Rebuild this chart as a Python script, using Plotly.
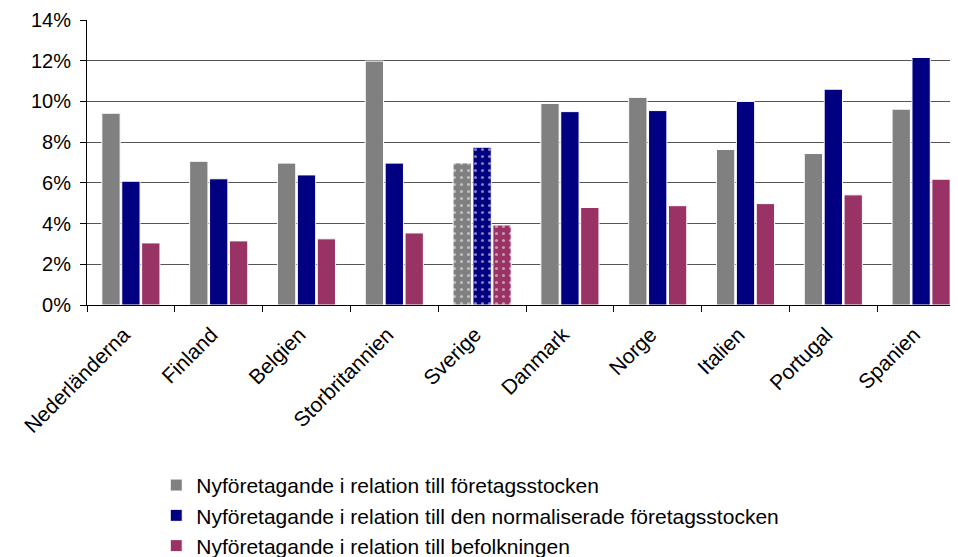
import plotly.graph_objects as go

categories = ["Nederländerna", "Finland", "Belgien", "Storbritannien", "Sverige",
              "Danmark", "Norge", "Italien", "Portugal", "Spanien"]
stock = [9.42, 7.06, 6.97, 11.98, 6.98, 9.9, 10.2, 7.64, 7.44, 9.62]
normalized = [6.08, 6.20, 6.39, 6.97, 7.75, 9.5, 9.55, 10.0, 10.6, 12.16]
population = [3.05, 3.15, 3.25, 3.54, 3.93, 4.79, 4.88, 4.98, 5.41, 6.18]
series_names = [
    "Nyföretagande i relation till företagsstocken",
    "Nyföretagande i relation till den normaliserade företagsstocken",
    "Nyföretagande i relation till befolkningen",
]
colors = ["#808080", "#000080", "#993366"]
highlight = "Sverige"

fig = go.Figure()
for i, (name, vals, col) in enumerate(zip(series_names, [stock, normalized, population], colors)):
    shapes = ["." if c == highlight else "" for c in categories]
    fig.add_trace(go.Bar(
        x=categories, y=[v / 100 for v in vals], name=name,
        legendgroup=f"g{i}",
        marker=dict(color=col, line=dict(color="#ffffff", width=1),
                    pattern=dict(shape=shapes, fgcolor="#ffffff", size=7, solidity=0.15)),
    ))

font = "Liberation Sans, Arial, sans-serif"
# page body has an 8px margin, so the figure is sized/positioned to compensate
fig.update_layout(
    width=950, height=549,
    margin=dict(l=79, r=0, t=12, b=252, autoexpand=False),
    paper_bgcolor="white", plot_bgcolor="white",
    barmode="group", bargap=0.32, bargroupgap=0.08,
    font=dict(family=font, size=20, color="black"),
    showlegend=True,
    legend=dict(orientation="v", x=0.0795, xanchor="left", y=-0.561, yanchor="top",
                traceorder="grouped", tracegroupgap=0,
                font=dict(family=font, size=21, color="black"),
                itemwidth=30),
)
fig.update_xaxes(
    type="category", range=[-0.5, 9.42], automargin=False,
    showline=True, linecolor="black", linewidth=1,
    ticks="outside", tickson="boundaries", ticklen=6, tickcolor="black",
    tickangle=-45, showgrid=False,
    ticklabelstandoff=8, ticklabelshift=-7,
    tickfont=dict(family=font, size=21, color="black"),
)
fig.update_yaxes(
    range=[0, 0.14], dtick=0.02, tickformat=".0%", automargin=False,
    showline=True, linecolor="black", linewidth=1,
    ticks="outside", ticklen=6, tickcolor="black",
    ticklabelstandoff=5,
    showgrid=True, gridcolor="#555555", gridwidth=1,
    zeroline=False,
    tickfont=dict(family=font, size=20, color="black"),
)

fig.write_html("out.html")
